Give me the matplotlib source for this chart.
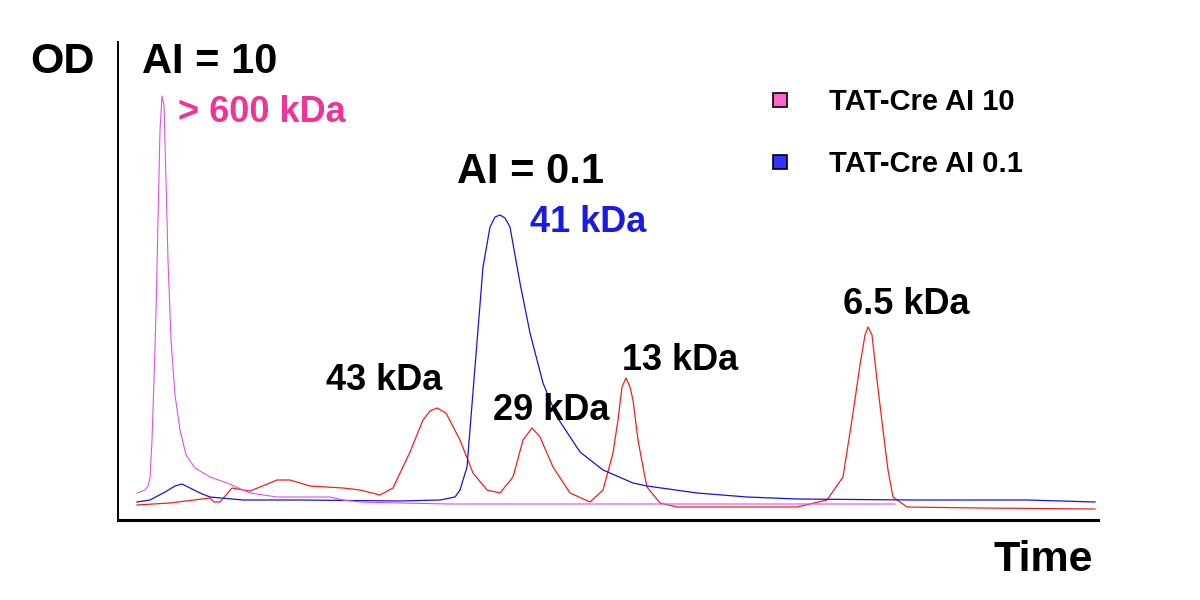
import matplotlib
matplotlib.use("Agg")
import matplotlib.pyplot as plt
from matplotlib.lines import Line2D

plt.rcParams["font.family"] = ["Liberation Sans", "DejaVu Sans"]
plt.rcParams["font.weight"] = "bold"

# time (arbitrary units) and OD readings for each trace
ai10_time = [137, 145, 148, 150, 152, 154, 156, 158, 160, 162, 164, 166, 168, 171, 175,
             180, 186, 195, 210, 227, 250, 277, 310, 330, 343, 360, 400, 450, 500, 600,
             700, 800, 895]
ai10_od = [27, 30, 34, 42, 80, 140, 207, 300, 390, 424, 415, 340, 260, 180, 125,
           90, 65, 52, 43, 37, 27, 23, 23, 23, 20, 18, 17, 16, 16, 16,
           16, 16, 16]

ai01_time = [137, 150, 165, 175, 182, 190, 200, 210, 243, 300, 400, 440, 455, 460, 467,
             475, 483, 490, 495, 500, 505, 510, 520, 530, 543, 557, 580, 603, 633, 647,
             697, 747, 797, 913, 1027, 1095]
ai01_od = [18, 20, 28, 34, 36, 32, 27, 23, 20, 20, 19, 20, 23, 30, 53,
           153, 253, 293, 303, 305, 302, 293, 237, 187, 137, 103, 68, 50, 37, 34,
           27, 23, 21, 20, 20, 18]

std_time = [137, 170, 210, 214, 220, 226, 232, 243, 250, 265, 277, 290, 310, 343, 360,
            380, 393, 410, 423, 430, 437, 446, 460, 473, 487, 500, 513, 523, 532, 540,
            553, 570, 590, 603, 613, 618, 622, 626, 630, 633, 638, 643, 647, 660, 677,
            797, 827, 843, 853, 860, 865, 868, 872, 877, 883, 888, 893, 907, 980, 1095]
std_od = [15, 17, 22, 18, 18, 25, 32, 30, 29, 35, 40, 40, 34, 32, 30,
          25, 32, 68, 100, 109, 112, 107, 80, 47, 30, 27, 43, 80, 92, 83,
          53, 27, 18, 30, 67, 100, 133, 142, 133, 120, 80, 53, 33, 17, 13,
          13, 20, 43, 107, 155, 185, 193, 185, 140, 90, 50, 23, 13, 12, 11]

legend_labels = ["TAT-Cre AI 10", "TAT-Cre AI 0.1"]
legend_colors = ["#ff66cc", "#3333ff"]

fig = plt.figure(figsize=(12, 6), dpi=100)
ax = fig.add_axes([118 / 1200, 80 / 600, 980 / 1200, 478 / 600])

ax.plot(std_time, std_od, color="#ee2020", lw=0.9)
ax.plot(ai01_time, ai01_od, color="#1414e0", lw=0.9)
ax.plot(ai10_time, ai10_od, color="#e050ea", lw=0.8)

ax.set_xlim(118, 1098)
ax.set_ylim(0, 478)
ax.set_xticks([])
ax.set_yticks([])
ax.spines["top"].set_visible(False)
ax.spines["right"].set_visible(False)
ax.spines["left"].set_linewidth(1.4)
ax.spines["bottom"].set_linewidth(2.2)

# peak labels (x = left edge, y = OD at text centre)
ax.text(142, 458, "AI = 10", fontsize=30, ha="left", va="center")
ax.text(178, 408, "> 600 kDa", fontsize=26, color="#ee3399", ha="left", va="center")
ax.text(457, 348, "AI = 0.1", fontsize=30, ha="left", va="center")
ax.text(530, 298, "41 kDa", fontsize=26, color="#1a1ae6", ha="left", va="center")
ax.text(326, 140, "43 kDa", fontsize=26, ha="left", va="center")
ax.text(493, 110, "29 kDa", fontsize=26, ha="left", va="center")
ax.text(622, 160, "13 kDa", fontsize=26, ha="left", va="center")
ax.text(843, 216, "6.5 kDa", fontsize=26, ha="left", va="center")

fig.text(30 / 1200, 1 - 62 / 600, "OD", fontsize=31, ha="left", va="center")
fig.text(1093 / 1200, 1 - 560 / 600, "Time", fontsize=31, ha="right", va="center")

handles = [Line2D([], [], marker="s", linestyle="none", markersize=10,
                  markerfacecolor=c, markeredgecolor="black", markeredgewidth=1.2)
           for c in legend_colors]
fig.legend(handles, legend_labels, loc="upper left",
           bbox_to_anchor=(739 / 1200, 1 - 62 / 600), frameon=False,
           prop={"size": 21, "weight": "bold"}, handlelength=1.0,
           handletextpad=1.2, labelspacing=1.15)

plt.savefig("out.png", dpi=100)
